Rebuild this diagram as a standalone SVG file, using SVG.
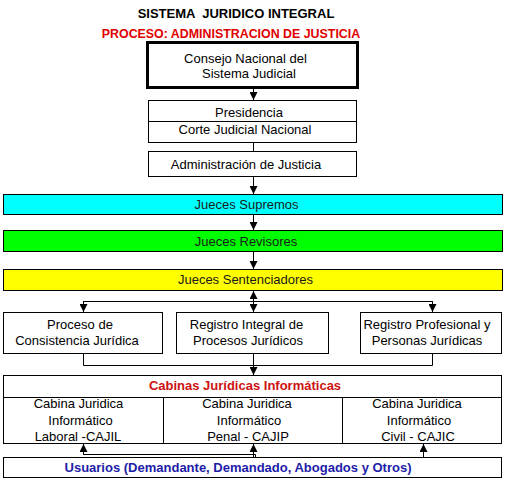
<svg xmlns="http://www.w3.org/2000/svg" width="508" height="480" viewBox="0 0 508 480">
<defs>
<marker id="ah" viewBox="0 0 8 8" refX="8" refY="4" markerWidth="8" markerHeight="8" markerUnits="userSpaceOnUse" orient="auto-start-reverse">
<path d="M0,0 L8,4 L0,8 Z" fill="#000"/>
</marker>
<style>
.t{font-family:"Liberation Sans",Arial,sans-serif;font-size:13px;fill:#000;text-anchor:middle}
.b{font-weight:bold}
.box{fill:#fff;stroke:#000;stroke-width:1}
.ln{fill:none;stroke:#000;stroke-width:1}
.arr{fill:none;stroke:#000;stroke-width:1;marker-end:url(#ah)}
</style>
</defs>
<rect width="508" height="480" fill="#fff"/>
<g id="titles">
<text class="t b" x="236" y="18" xml:space="preserve">SISTEMA  JURIDICO INTEGRAL</text>
<text class="t b" x="231" y="38" style="fill:#e00000;font-size:12.4px">PROCESO: ADMINISTRACION DE JUSTICIA</text>
</g>
<g id="connectors">
<line class="arr" x1="253.5" y1="89" x2="253.5" y2="100"/>
<line class="ln" x1="253.5" y1="143" x2="253.5" y2="151"/>
<line class="arr" x1="253.5" y1="177" x2="253.5" y2="194"/>
<line class="arr" x1="253.5" y1="215" x2="253.5" y2="230"/>
<line class="arr" x1="253.5" y1="252" x2="253.5" y2="269"/>
<line class="arr" x1="253.5" y1="301" x2="253.5" y2="291"/>
<line class="arr" x1="253.5" y1="301" x2="253.5" y2="312"/>
<polyline class="ln" points="83.5,301.5 432.5,301.5"/>
<line class="arr" x1="83.5" y1="301" x2="83.5" y2="312"/>
<line class="arr" x1="432.5" y1="301" x2="432.5" y2="312"/>
<polyline class="ln" points="83.5,354 83.5,365.5 432.5,365.5 432.5,354"/>
<line class="ln" x1="253.5" y1="354" x2="253.5" y2="366"/>
<line class="arr" x1="253.5" y1="365" x2="253.5" y2="375"/>
<polyline class="ln" points="255.5,457 255.5,454.5 83.5,454.5"/>
<line class="arr" x1="83.5" y1="455" x2="83.5" y2="444"/>
<line class="arr" x1="253.5" y1="457" x2="253.5" y2="444"/>
<line class="arr" x1="423.5" y1="457" x2="423.5" y2="444"/>
</g>
<g id="consejo">
<rect x="147.5" y="42.5" width="210" height="45" fill="#fff" stroke="#000" stroke-width="3"/>
<text class="t" x="245.5" y="63">Consejo Nacional del</text>
<text class="t" x="249" y="78">Sistema Judicial</text>
</g>
<g id="presidencia">
<rect class="box" x="148.5" y="100.5" width="208" height="42"/>
<line class="ln" x1="148.5" y1="121.5" x2="356.5" y2="121.5"/>
<text class="t" x="249" y="117">Presidencia</text>
<text class="t" x="245" y="134">Corte Judicial Nacional</text>
</g>
<g id="administracion">
<rect class="box" x="148.5" y="151.5" width="208" height="25"/>
<text class="t" x="246" y="169">Administración de Justicia</text>
</g>
<g id="supremos">
<rect x="3.5" y="194.5" width="499" height="20" fill="#00ffff" stroke="#000"/>
<text class="t" x="246.5" y="209" style="fill:#1a1a1a">Jueces Supremos</text>
</g>
<g id="revisores">
<rect x="3.5" y="230.5" width="499" height="21" fill="#00ff00" stroke="#000"/>
<text class="t" x="246" y="246" style="fill:#1a1a1a">Jueces Revisores</text>
</g>
<g id="sentenciadores">
<rect x="3.5" y="269.5" width="499" height="21" fill="#ffff00" stroke="#000"/>
<text class="t" x="245.5" y="284" style="fill:#1a1a1a">Jueces Sentenciadores</text>
</g>
<g id="consistencia">
<rect class="box" x="3.5" y="312.5" width="159" height="41"/>
<text class="t" x="80" y="329">Proceso de</text>
<text class="t" x="77" y="345">Consistencia Jurídica</text>
</g>
<g id="registro-integral">
<rect class="box" x="176.5" y="312.5" width="152" height="41"/>
<text class="t" x="246.5" y="329">Registro Integral de</text>
<text class="t" x="248" y="345">Procesos Jurídicos</text>
</g>
<g id="registro-profesional">
<rect class="box" x="360.5" y="312.5" width="141" height="41"/>
<text class="t" x="427" y="329">Registro Profesional y</text>
<text class="t" x="427" y="345">Personas Jurídicas</text>
</g>
<g id="cabinas">
<rect class="box" x="3.5" y="375.5" width="498" height="68"/>
<line class="ln" x1="3.5" y1="397.5" x2="501.5" y2="397.5"/>
<line class="ln" x1="163.5" y1="397.5" x2="163.5" y2="443.5"/>
<line class="ln" x1="342.5" y1="397.5" x2="342.5" y2="443.5"/>
<text class="t b" x="245" y="390" style="fill:#cc1111">Cabinas Jurídicas Informáticas</text>
</g>
<g id="cajil">
<text class="t" x="78.5" y="408">Cabina Juridica</text>
<text class="t" x="80.5" y="425">Informático</text>
<text class="t" x="78" y="441">Laboral -CAJIL</text>
</g>
<g id="cajip">
<text class="t" x="247" y="408">Cabina Juridica</text>
<text class="t" x="249" y="425">Informático</text>
<text class="t" x="248" y="441">Penal - CAJIP</text>
</g>
<g id="cajic">
<text class="t" x="417" y="408">Cabina Juridica</text>
<text class="t" x="419" y="425">Informático</text>
<text class="t" x="418" y="441">Civil - CAJIC</text>
</g>
<g id="usuarios">
<rect class="box" x="3.5" y="457.5" width="498" height="20"/>
<text class="t b" x="238" y="472" style="fill:#1c1ca8">Usuarios (Demandante, Demandado, Abogados y Otros)</text>
</g>
</svg>
